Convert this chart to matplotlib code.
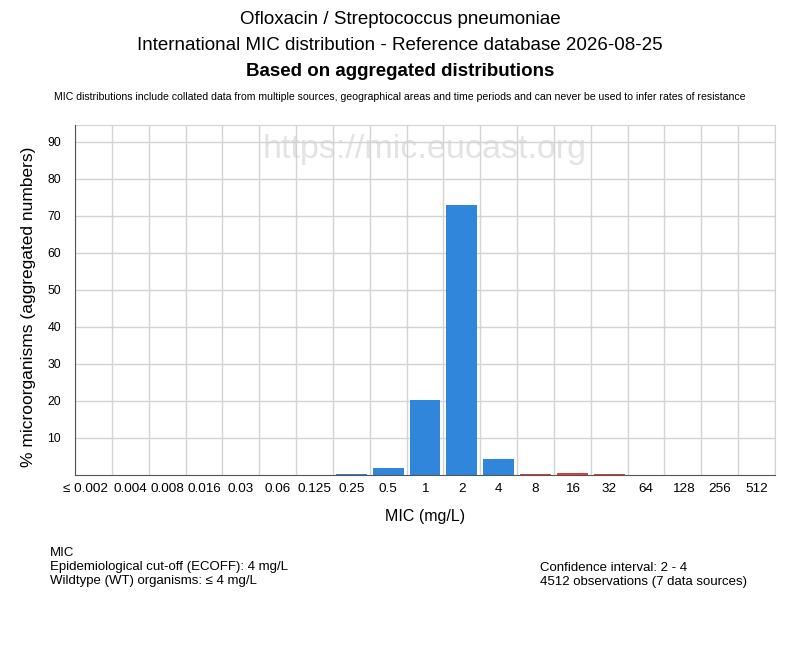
import matplotlib
matplotlib.use("Agg")
import matplotlib.pyplot as plt
import matplotlib.transforms as mtrans
import numpy as np

# MIC categories and % of organisms
mic_labels = ["≤ 0.002", "0.004", "0.008", "0.016", "0.03", "0.06", "0.125", "0.25",
              "0.5", "1", "2", "4", "8", "16", "32", "64", "128", "256", "512"]
percent = [0, 0, 0, 0, 0, 0, 0, 0.35, 2.0, 20.3, 73.0, 4.4, 0.35, 0.6, 0.35, 0, 0, 0, 0]
ecoff = 4

plt.rcParams['font.family'] = ['Liberation Sans', 'DejaVu Sans']

fig = plt.figure(figsize=(8, 6.5), dpi=100)
ax = fig.add_axes([0.09375, 0.2692, 0.875, 0.5385])

x = np.arange(len(mic_labels))
colors = []
for lab in mic_labels:
    v = float(lab.replace("≤", ""))
    colors.append("#2f86da" if v <= ecoff else "#e03a3a")
ax.bar(x, percent, width=0.84, color=colors, zorder=3)

ax.set_xlim(-0.5, len(mic_labels) - 0.5)
ax.set_ylim(0, 94.5)
ax.set_xticks(x)
ax.set_xticklabels(mic_labels, fontsize=9.7)
ax.set_yticks(range(10, 100, 10))
ax.tick_params(axis='y', labelsize=8.7, length=0, pad=10)
ax.tick_params(axis='x', length=0, pad=6)
ax.set_xticks(np.arange(-0.5, len(mic_labels)), minor=True)
ax.grid(False)
ax.grid(True, which='minor', axis='x', color='#d3d3d3', lw=1, zorder=2)
ax.grid(True, which='major', axis='y', color='#d3d3d3', lw=1, zorder=2)
ax.set_axisbelow(False)
ax.tick_params(which='minor', length=0)
# the first label sits a little to the left so it clears its neighbour
first = ax.get_xticklabels()[0]
first.set_transform(first.get_transform() + mtrans.ScaledTranslation(-8 / 100, 0, fig.dpi_scale_trans))
for s in ['top', 'right']:
    ax.spines[s].set_color('#d3d3d3')
for s in ['left', 'bottom']:
    ax.spines[s].set_color('#555555')
    ax.spines[s].set_zorder(4)
ax.set_xlabel("MIC (mg/L)", fontsize=11.5, labelpad=10)
ax.set_ylabel("% microorganisms (aggregated numbers)", fontsize=12.5)
ax.yaxis.set_label_coords(-0.056, 0.48)

ax.text(0.5, 1 - (150 - 125) / 350, "https://mic.eucast.org", transform=ax.transAxes,
        ha='center', va='center', fontsize=24.5, color='#e3e3e3', zorder=1)

fig.text(0.5, 1 - 20 / 650, "Ofloxacin / Streptococcus pneumoniae", ha='center', va='center',
         fontsize=13.5)
fig.text(0.5, 1 - 46 / 650, "International MIC distribution - Reference database 2026-08-25",
         ha='center', va='center', fontsize=13.5)
fig.text(0.5, 1 - 71 / 650, "Based on aggregated distributions", ha='center', va='center',
         fontsize=13.5, fontweight='bold')
fig.text(0.5, 1 - 97 / 650, "MIC distributions include collated data from multiple sources, "
         "geographical areas and time periods and can never be used to infer rates of resistance",
         ha='center', va='center', fontsize=7.6)

fig.text(50 / 800, 1 - 547 / 650, "MIC\nEpidemiological cut-off (ECOFF): 4 mg/L\n"
         "Wildtype (WT) organisms: ≤ 4 mg/L", ha='left', va='top', fontsize=9.5,
         linespacing=1.2)
fig.text(540 / 800, 1 - 562 / 650, "Confidence interval: 2 - 4\n4512 observations (7 data sources)",
         ha='left', va='top', fontsize=9.5, linespacing=1.2)

fig.savefig("out.png", dpi=100)
